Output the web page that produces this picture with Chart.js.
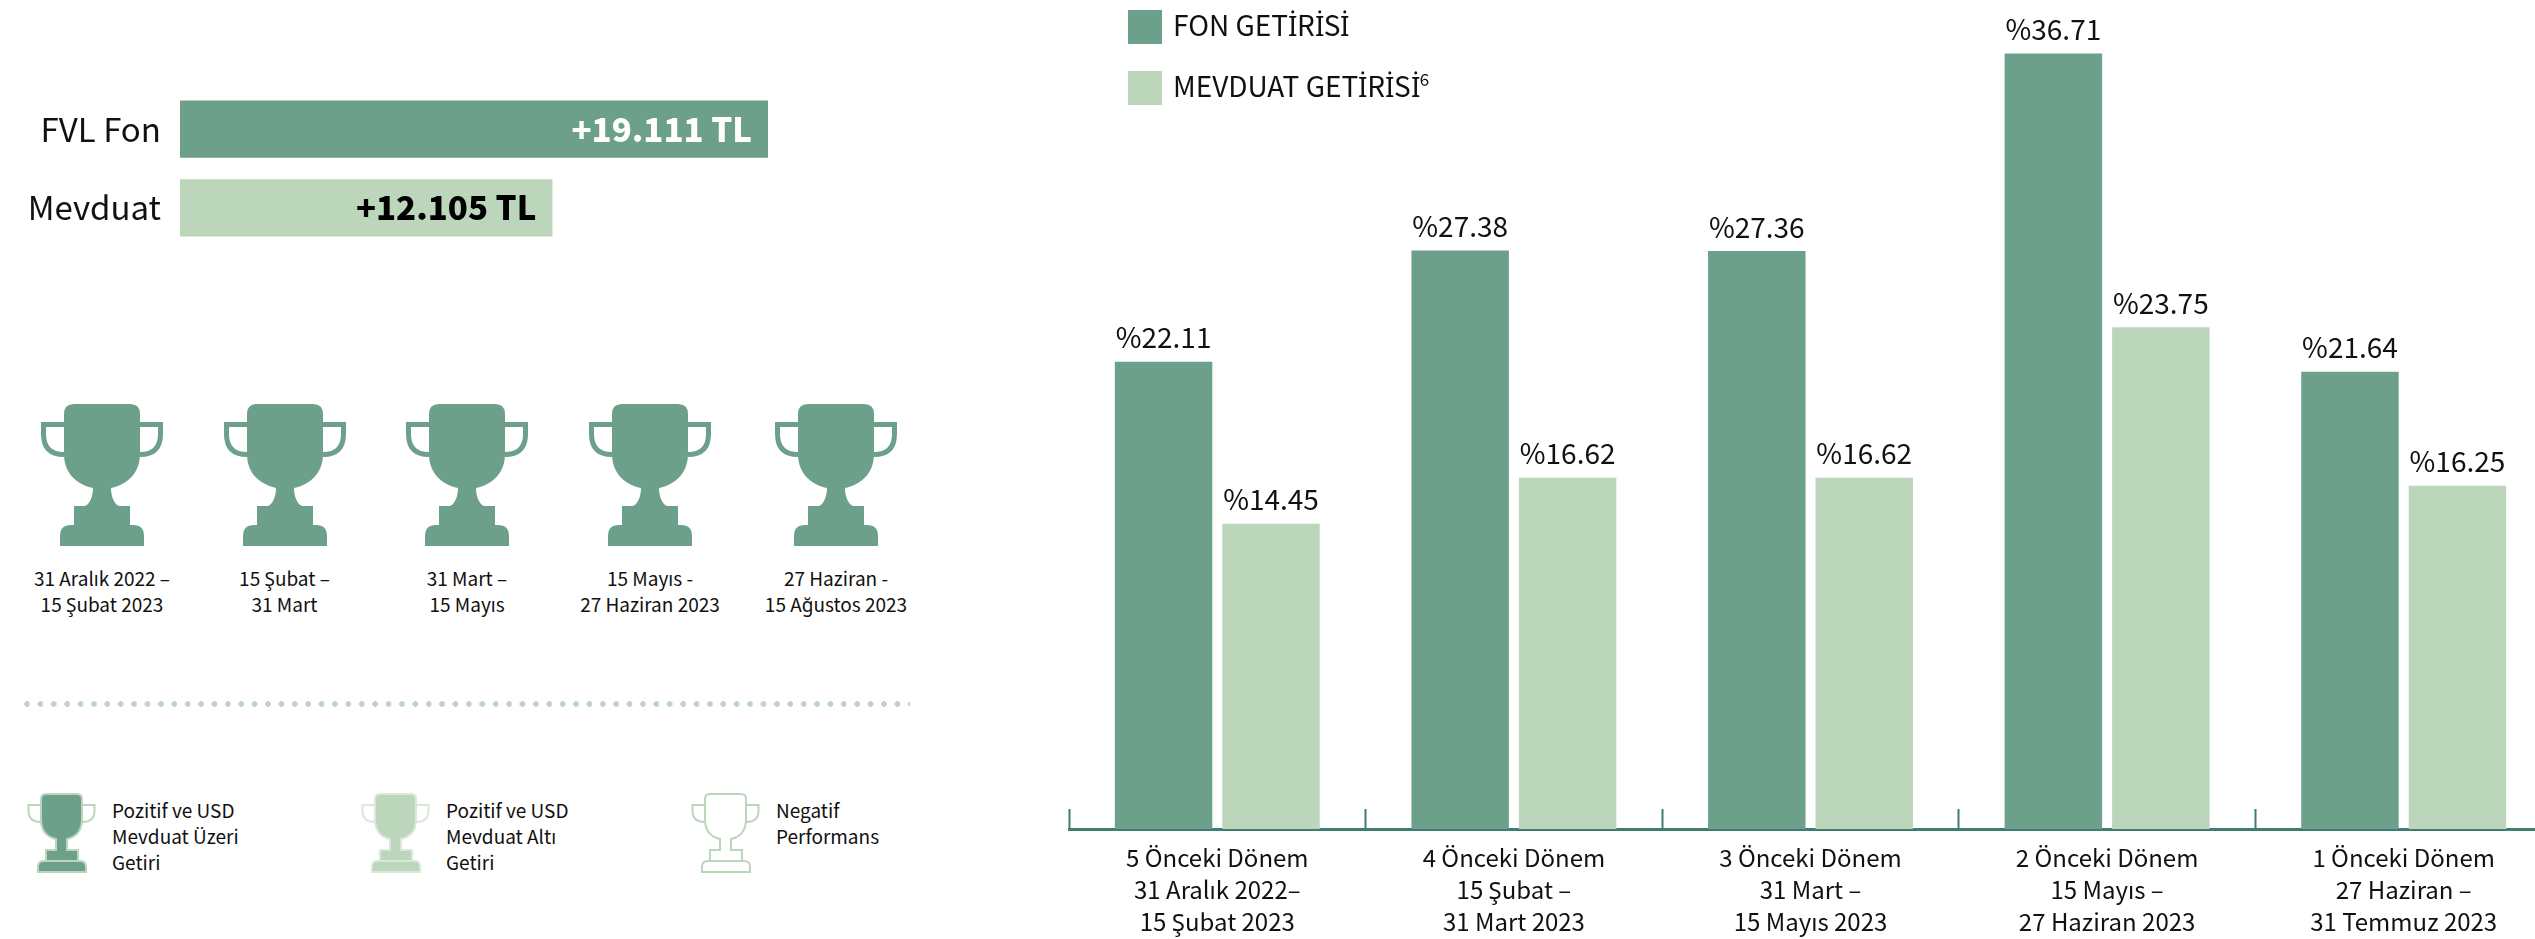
<!DOCTYPE html>
<html lang="tr">
<head>
<meta charset="utf-8">
<title>FVL Fon getiri</title>
<script src="https://cdn.jsdelivr.net/npm/chart.js@4"></script>
<style>
  /* İ が崩れるので Noto Sans から借りる */
  @font-face { font-family: "DotI"; src: local("Noto Sans"), local("NotoSans-Regular"); unicode-range: U+0130; }
  html, body { margin: 0; padding: 0; width: 2535px; height: 939px; overflow: hidden; background: #fff; }
  body { position: relative; font-family: "DotI", "Noto Sans CJK SC", "Noto Sans", sans-serif; color: #111; }
  canvas { position: absolute; }
  #total-chart { left: 0; top: 51px; }
  #period-chart { left: 1060px; top: 0; }
  .key { position: absolute; left: 1128px; width: 34px; height: 34px; }
  .key-text { position: absolute; left: 1173px; font-size: 28px; line-height: 34px; white-space: nowrap; }
  .key-text sup { font-size: 17px; line-height: 0; vertical-align: 11px; }
  .trophy-date { position: absolute; width: 200px; text-align: center; font-size: 19px; line-height: 26px; }
  .note { position: absolute; font-size: 19px; line-height: 26px; white-space: pre-line; }
  #dots { position: absolute; left: 24px; top: 701px; width: 886px; height: 6px; }
</style>
</head>
<body>
<canvas id="total-chart" width="800" height="235"></canvas>
<canvas id="period-chart" width="1492" height="939"></canvas>

<svg width="0" height="0" style="position:absolute">
  <symbol id="cup-big" viewBox="0 0 122 142">
    <path d="M33 0 H89 Q99 0 99 10 V50 C99 68 88 80 70 84 C70 92 73 100 78 102 H89 V121 H92 Q103 121 103 132 V142 H19 V132 Q19 121 30 121 H33 V102 H44 C49 100 52 92 52 84 C34 80 23 68 23 50 V10 Q23 0 33 0 Z"/>
    <path d="M23 20.5 H2.5 V30 Q2.5 50.5 23 50.5 M99 20.5 H119.5 V30 Q119.5 50.5 99 50.5" fill="none" stroke="currentColor" stroke-width="5"/>
  </symbol>
  <symbol id="cup-small" viewBox="0 0 69 80">
    <path d="M19 1 H50 Q55 1 55 6 V26 C55 38 49 44 40 46 V57 H51 V68 H53 Q59 68 59 74 V79 H11 V74 Q11 68 17 68 H19 V57 H29 V46 C20 44 14 38 14 26 V6 Q14 1 19 1 Z"/>
    <path d="M14 12 H1.5 V18 Q1.5 29 14 29 M55 12 H67.5 V18 Q67.5 29 55 29 M19 68 H51" fill="none" stroke-width="2"/>
  </symbol>
</svg>

<script>
// 期間別の値
const periodLabels = [
  ["5 Önceki Dönem", "31 Aralık 2022–", "15 Şubat 2023"],
  ["4 Önceki Dönem", "15 Şubat –", "31 Mart 2023"],
  ["3 Önceki Dönem", "31 Mart –", "15 Mayıs 2023"],
  ["2 Önceki Dönem", "15 Mayıs –", "27 Haziran 2023"],
  ["1 Önceki Dönem", "27 Haziran –", "31 Temmuz 2023"]
];
const fonGetirisi = [22.11, 27.38, 27.36, 36.71, 21.64];
const mevduatGetirisi = [14.45, 16.62, 16.62, 23.75, 16.25];

// 合計バー
const totalLabels = ["FVL Fon", "Mevduat"];
const totalValues = [19111, 12105];
const totalTexts = ["+19.111 TL", "+12.105 TL"];

// トロフィー
const trophyDates = [
  ["31 Aralık 2022 –", "15 Şubat 2023"],
  ["15 Şubat –", "31 Mart"],
  ["31 Mart –", "15 Mayıs"],
  ["15 Mayıs -", "27 Haziran 2023"],
  ["27 Haziran -", "15 Ağustos 2023"]
];
const trophyCenters = [102, 284.5, 467, 650, 836];

const notes = [
  { x: 27, textX: 112, text: "Pozitif ve USD\nMevduat Üzeri\nGetiri", fill: "#6da08a", line: "#bcd6bc" },
  { x: 361, textX: 446, text: "Pozitif ve USD\nMevduat Altı\nGetiri", fill: "#bcd6bc", line: "#d9e8d9" },
  { x: 691, textX: 776, text: "Negatif\nPerformans", fill: "none", line: "#bcd6bc" }
];

const DARK = "#6da08a";
const LIGHT = "#bcd6bc";
const AXIS = "#3f7d70";
const FONT = '"Noto Sans CJK SC", "Noto Sans", sans-serif';

// 棒の上のラベル
const periodValueLabels = {
  id: "periodValueLabels",
  afterDatasetsDraw(chart) {
    const ctx = chart.ctx;
    ctx.save();
    ctx.font = "28px " + FONT;
    ctx.fillStyle = "#111";
    ctx.textAlign = "center";
    ctx.textBaseline = "bottom";
    chart.data.datasets.forEach((ds, i) => {
      chart.getDatasetMeta(i).data.forEach((bar, j) => {
        ctx.fillText("%" + ds.data[j].toFixed(2), bar.x, bar.y - 10);
      });
    });
    ctx.restore();
  }
};

// 合計バーの内側ラベル
const totalValueLabels = {
  id: "totalValueLabels",
  afterDatasetsDraw(chart) {
    const ctx = chart.ctx;
    ctx.save();
    ctx.font = "900 33px " + FONT;
    ctx.textAlign = "right";
    ctx.textBaseline = "middle";
    chart.getDatasetMeta(0).data.forEach((bar, j) => {
      ctx.fillStyle = j === 0 ? "#fff" : "#000";
      ctx.fillText(totalTexts[j], bar.x - 16, bar.y);
    });
    ctx.restore();
  }
};

new Chart(document.getElementById("period-chart"), {
  type: "bar",
  data: {
    labels: periodLabels,
    datasets: [
      { label: "FON GETİRİSİ", data: fonGetirisi, backgroundColor: DARK },
      { label: "MEVDUAT GETİRİSİ", data: mevduatGetirisi, backgroundColor: LIGHT }
    ]
  },
  options: {
    responsive: false,
    animation: false,
    datasets: { bar: { categoryPercentage: 0.7246, barPercentage: 0.907 } },
    layout: { padding: { left: 9, top: 5, right: 0, bottom: 0 } },
    scales: {
      y: { display: false, min: 0, max: 39 },
      x: {
        border: { display: true, color: AXIS, width: 3 },
        grid: { offset: true, drawOnChartArea: false, drawTicks: true, tickLength: -20, tickWidth: 2, tickColor: AXIS },
        ticks: { color: "#111", font: { family: FONT, size: 24, lineHeight: 1.333 }, padding: 33, maxRotation: 0, autoSkip: false },
        afterFit(scale) { scale.height = 110; }
      }
    },
    plugins: { legend: { display: false }, tooltip: { enabled: false } }
  },
  plugins: [periodValueLabels]
});

new Chart(document.getElementById("total-chart"), {
  type: "bar",
  data: {
    labels: totalLabels,
    datasets: [{
      data: totalValues,
      backgroundColor: [DARK, LIGHT],
      categoryPercentage: 1,
      barPercentage: 0.727
    }]
  },
  options: {
    indexAxis: "y",
    responsive: false,
    animation: false,
    scales: {
      x: { display: false, min: 0, max: 20150 },
      y: {
        border: { display: false },
        grid: { display: false, drawTicks: false },
        ticks: { color: "#111", font: { family: FONT, size: 33 }, padding: 19 },
        afterFit(scale) { scale.width = 180; }
      }
    },
    plugins: { legend: { display: false }, tooltip: { enabled: false } }
  },
  plugins: [totalValueLabels]
});

// 凡例
function addKey(top, textTop, color, text, sup) {
  const box = document.createElement("div");
  box.className = "key";
  box.style.top = top + "px";
  box.style.background = color;
  document.body.appendChild(box);
  const label = document.createElement("div");
  label.className = "key-text";
  label.style.top = textTop + "px";
  label.textContent = text;
  if (sup) {
    const s = document.createElement("sup");
    s.textContent = sup;
    label.appendChild(s);
  }
  document.body.appendChild(label);
}
addKey(10, 7, DARK, "FON GETİRİSİ");
addKey(71, 68, LIGHT, "MEVDUAT GETİRİSİ", "6");

function addSvg(html, style) {
  const wrap = document.createElement("div");
  wrap.style.cssText = "position:absolute;" + style;
  wrap.innerHTML = html;
  document.body.appendChild(wrap);
}

// トロフィー列
trophyDates.forEach((lines, i) => {
  addSvg(`<svg width="122" height="142" style="display:block;color:${DARK};fill:${DARK}"><use href="#cup-big"/></svg>`,
    `left:${trophyCenters[i] - 61}px;top:404px;`);
  const d = document.createElement("div");
  d.className = "trophy-date";
  d.style.left = (trophyCenters[i] - 100) + "px";
  d.style.top = "565px";
  d.innerHTML = lines.join("<br>");
  document.body.appendChild(d);
});

// 下の説明
notes.forEach(n => {
  addSvg(`<svg width="69" height="80" style="display:block;fill:${n.fill};stroke:${n.line};stroke-width:2"><use href="#cup-small"/></svg>`,
    `left:${n.x}px;top:793px;`);
  const t = document.createElement("div");
  t.className = "note";
  t.style.left = n.textX + "px";
  t.style.top = "797px";
  t.textContent = n.text;
  document.body.appendChild(t);
});

// 点線
const dots = document.createElement("div");
dots.id = "dots";
dots.style.background = `radial-gradient(circle at 3px 3px, ${LIGHT} 2.6px, transparent 3px) 0 0 / 13.4px 6px repeat-x`;
document.body.appendChild(dots);
</script>
</body>
</html>
